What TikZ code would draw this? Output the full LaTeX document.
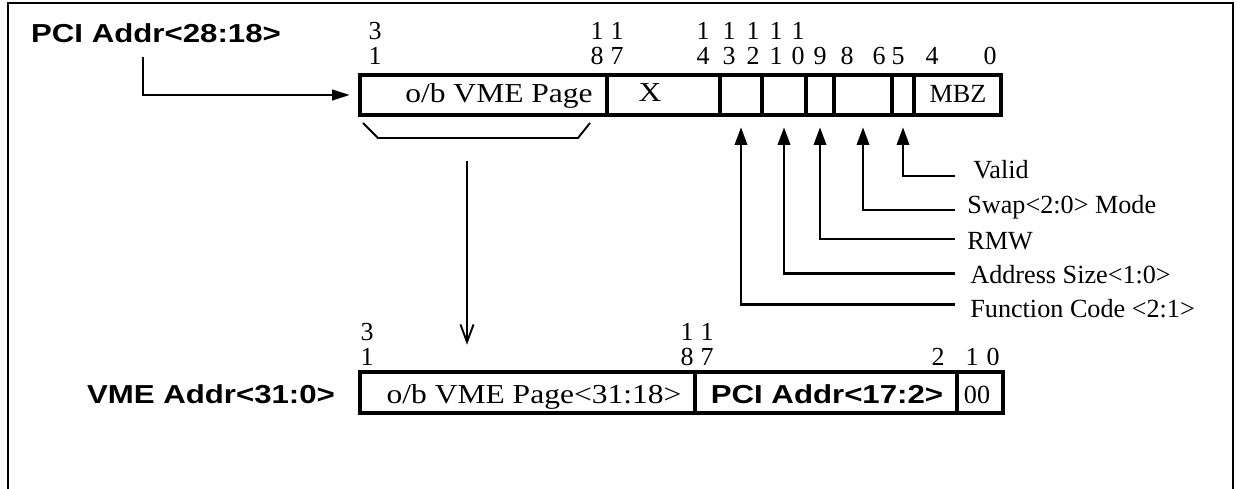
\documentclass[tikz,border=0pt]{standalone}
\usepackage{fontspec}
\setmainfont{Liberation Serif}
\newfontfamily\regfont[FakeStretch=1.15]{Liberation Serif}
\newfontfamily\hdfam[FakeStretch=1.2]{Liberation Sans}
\usepackage{tikz}
\usetikzlibrary{arrows.meta, calc, fit}

\newcommand{\regtext}{\regfont\fontsize{15.6}{18}\selectfont}
\newcommand{\bittext}{\fontsize{14.8}{17}\selectfont}
\newcommand{\lbltext}{\fontsize{14.9}{17}\selectfont}
\newcommand{\hdtext}{\hdfam\bfseries\fontsize{14.8}{17}\selectfont}

\begin{document}
\begin{tikzpicture}[
		% one unit is one pixel of the 1237x489 sheet, y runs downwards
		x=0.02cm, y=-0.02cm,
		>={Triangle[length=10pt,width=7pt]},
		fld/.style={draw, line width=2.6pt, inner sep=0pt},
		bit/.style={anchor=base, inner sep=0pt, font=\bittext},
		reg/.style={anchor=base, inner sep=0pt, font=\regtext},
		lbl/.style={anchor=base west, inner sep=0pt, font=\lbltext},
		hd/.style={anchor=base, inner sep=0pt, font=\hdtext},
		ptr/.style={->, line width=1.4pt, shorten >=0.2cm}
		]
		\useasboundingbox (0,0) rectangle (1237,489);
		
		% --- 1. FRAME (open at the bottom) ---
		\draw[line width=1.1pt] (8,489) -- (8,3) -- (1233,3) -- (1233,489);
		
		% --- 2. PCI SIDE REGISTER ---
		\node[fld, fit={(360,75)(607,115)}] (fvme) {};
		\node[fld, fit={(607,75)(720,115)}] (fx) {};
		\node[fld, fit={(720,75)(762,115)}] (f13) {};
		\node[fld, fit={(762,75)(806,115)}] (f11) {};
		\node[fld, fit={(806,75)(834,115)}] (f9) {};
		\node[fld, fit={(834,75)(892,115)}] (f8) {};
		\node[fld, fit={(892,75)(914,115)}] (f5) {};
		\node[fld, fit={(914,75)(1001,115)}] (f4) {};
		
		\node[reg] (tvme) at (499,103) {o/b VME Page};
		\node[reg] (tx) at (650,102) {X};
		\node[lbl, anchor=base] (tmbz) at (958,103) {MBZ};
		
		% bit numbers, tens digit above units digit
		\foreach \x/\hi/\lo in {375/3/1, 597/1/8, 617/1/7, 703/1/4, 729/1/3, 753/1/2, 776/1/1, 798/1/0} {
			\node[bit] (ua\x) at (\x,40) {\hi};
			\node[bit] (ub\x) at (\x,65) {\lo};
		}
		\foreach \x/\lo in {820/9, 847/8, 879/6, 898/5, 932/4, 990/0}
			\node[bit] (ub\x) at (\x,65) {\lo};
		
		% source of the page bits
		\node[hd] (pci) at (156,43) {PCI Addr<28:18>};
		\coordinate (pcidrop) at (143,57);
		\draw[line width=1.3pt, -{Triangle[length=10pt,width=6pt]}, shorten >=0.16cm] (pcidrop) |- (fvme.west);
		
		% --- 3. FIELD NAMES ---
		\node[lbl] (valid) at (973,178.4) {Valid};
		\node[lbl] (swap) at (967,213.6) {Swap<2:0> Mode};
		\node[lbl] (rmw) at (967,249.6) {RMW};
		\node[lbl] (asize) at (970,283.8) {Address Size<1:0>};
		\node[lbl] (fcode) at (970,318) {Function Code <2:1>};
		
		\coordinate (cvalid) at (955,176);
		\coordinate (cswap) at (955,210);
		\coordinate (crmw) at (955,239);
		\coordinate (casize) at (955,273.6);
		\coordinate (cfcode) at (955,304.4);
		
		\draw[ptr] (cvalid) -| (f5.south);
		\draw[ptr] (cswap) -| (f8.south);
		\draw[ptr] (crmw) -| (f9.south);
		\draw[ptr] (casize) -| (f11.south);
		\draw[ptr] (cfcode) -| (f13.south);
		
		% --- 4. PAGE BRACKET AND DOWN ARROW ---
		\draw[line width=1.1pt] (363,123) -- (378,138) -- (578,138) -- (590,123);
		\coordinate (brk) at (467,161);
		
		% --- 5. VME SIDE ADDRESS ---
		\node[fld, fit={(360,372)(695,413)}] (bvme) {};
		\node[fld, fit={(695,372)(957,413)}] (bpci) {};
		\node[fld, fit={(957,372)(1003,413)}] (bzero) {};
		
		\node[reg] (tbvme) at (534,403) {o/b VME Page<31:18>};
		\node[hd] (tbpci) at (827,403) {PCI Addr<17:2>};
		\node[lbl, anchor=base] (tbzero) at (977,403) {00};
		
		\node[hd] (vmeaddr) at (211,403) {VME Addr<31:0>};
		
		\foreach \x/\hi/\lo in {367/3/1, 687/1/8, 707/1/7} {
			\node[bit] (la\x) at (\x,341) {\hi};
			\node[bit] (lb\x) at (\x,366) {\lo};
		}
		\foreach \x/\lo in {938/2, 972/1, 993/0}
			\node[bit] (lb\x) at (\x,366) {\lo};
		
		\draw[line width=1.1pt, -{Straight Barb[length=10pt,width=7.5pt]}, shorten >=0.5cm] (brk) -- (brk |- bvme.north);
		
	\end{tikzpicture}
\end{document}
